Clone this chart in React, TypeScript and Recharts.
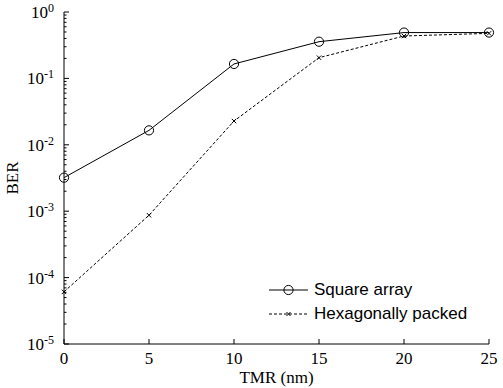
import React from 'react';
import { CartesianGrid, Legend, Line, LineChart, XAxis, YAxis } from 'recharts';

const tmr = [0, 5, 10, 15, 20, 25];
const squareArray = [3.2e-3, 1.65e-2, 0.165, 0.357, 0.49, 0.49];
const hexPacked = [6.1e-5, 8.7e-4, 2.28e-2, 0.205, 0.435, 0.477];

const xTicks = [0, 5, 10, 15, 20, 25];
const majorExps = [-5, -4, -3, -2, -1, 0];
const minorMults = [2, 3, 4, 5, 6, 7, 8, 9];

const yTicks: number[] = [];
majorExps.forEach((e) => {
  yTicks.push(Math.pow(10, e));
  if (e < 0) minorMults.forEach((m) => yTicks.push(m * Math.pow(10, e)));
});

const data = tmr.map((t, i) => ({ tmr: t, square: squareArray[i], hex: hexPacked[i] }));

const serif = 'Liberation Serif';
const sans = 'Liberation Sans';

const isMajor = (v: number) => Math.abs(Math.log10(v) - Math.round(Math.log10(v))) < 1e-6;

// bottom axis: label + inward tick
const BottomTick = (props: any) => {
  const { x, y, payload } = props;
  const axisY = y - 14;
  return (
    <g>
      <line x1={x} x2={x} y1={axisY} y2={axisY - 5} stroke="#000" />
      <text x={x} y={y + 6} textAnchor="middle" fontFamily={serif} fontSize={17} fill="#000">
        {payload.value}
      </text>
    </g>
  );
};

const TopTick = (props: any) => {
  const { x, y } = props;
  return <line x1={x} x2={x} y1={y} y2={y + 5} stroke="#000" />;
};

const LeftTick = (props: any) => {
  const { x, y, payload } = props;
  const axisX = x + 10;
  const major = isMajor(payload.value);
  return (
    <g>
      <line x1={axisX} x2={axisX + (major ? 5 : 2.5)} y1={y} y2={y} stroke="#000" />
      {major && (
        <text x={x} y={y + 6} textAnchor="end" fontFamily={serif} fontSize={17} fill="#000">
          <tspan>10</tspan>
          <tspan dy={-6} fontSize={12}>
            {Math.round(Math.log10(payload.value))}
          </tspan>
        </text>
      )}
    </g>
  );
};

const RightTick = (props: any) => {
  const { x, y, payload } = props;
  const major = isMajor(payload.value);
  return <line x1={x} x2={x - (major ? 5 : 2.5)} y1={y} y2={y} stroke="#000" />;
};

const CircleDot = (props: any) => {
  const { cx, cy } = props;
  return <circle cx={cx} cy={cy} r={4.6} fill="none" stroke="#000" strokeWidth={1} />;
};

const CrossDot = (props: any) => {
  const { cx, cy } = props;
  const s = 2.2;
  return (
    <g stroke="#000" strokeWidth={1}>
      <line x1={cx - s} y1={cy - s} x2={cx + s} y2={cy + s} />
      <line x1={cx - s} y1={cy + s} x2={cx + s} y2={cy - s} />
    </g>
  );
};

const LegendBox = () => (
  <div style={{ fontFamily: sans, fontSize: 17, color: '#000', lineHeight: '24px' }}>
    <div style={{ display: 'flex', alignItems: 'center', height: 24 }}>
      <svg width={39} height={12} style={{ marginRight: 6 }}>
        <line x1={0} x2={39} y1={6} y2={6} stroke="#000" />
        <circle cx={19.5} cy={6} r={4.6} fill="none" stroke="#000" />
      </svg>
      <span>Square array</span>
    </div>
    <div style={{ display: 'flex', alignItems: 'center', height: 24 }}>
      <svg width={39} height={12} style={{ marginRight: 6 }}>
        <line x1={0} x2={39} y1={6} y2={6} stroke="#000" strokeDasharray="3 2" />
        <line x1={17.5} y1={4} x2={21.5} y2={8} stroke="#000" />
        <line x1={17.5} y1={8} x2={21.5} y2={4} stroke="#000" />
      </svg>
      <span>Hexagonally packed</span>
    </div>
  </div>
);

export default function App() {
  return (
    <div style={{ position: 'absolute', left: 0, top: 0, background: '#fff' }}>
      <LineChart width={503} height={388} data={data} margin={{ top: 12, right: 14, bottom: 0, left: 0 }}>
        <CartesianGrid stroke="none" />
        <XAxis
          xAxisId="bottom"
          dataKey="tmr"
          type="number"
          domain={[0, 25]}
          ticks={xTicks}
          interval={0}
          height={44}
          tickSize={0}
          tickMargin={14}
          tickLine={false}
          axisLine={{ stroke: '#000' }}
          tick={<BottomTick />}
          label={{ value: 'TMR (nm)', position: 'insideBottom', offset: 5, fill: '#000', fontFamily: serif, fontSize: 17 }}
        />
        <XAxis
          xAxisId="top"
          orientation="top"
          dataKey="tmr"
          type="number"
          domain={[0, 25]}
          ticks={xTicks}
          interval={0}
          height={0}
          tickSize={0}
          tickMargin={0}
          tickLine={false}
          axisLine={{ stroke: '#000' }}
          tick={<TopTick />}
        />
        <YAxis
          yAxisId="left"
          scale="log"
          domain={[1e-5, 1]}
          ticks={yTicks}
          interval={0}
          width={64}
          tickSize={0}
          tickMargin={10}
          tickLine={false}
          axisLine={{ stroke: '#000' }}
          tick={<LeftTick />}
          label={{ value: 'BER', angle: -90, position: 'insideLeft', offset: 12, fill: '#000', fontFamily: serif, fontSize: 17, textAnchor: 'middle' }}
        />
        <YAxis
          yAxisId="right"
          orientation="right"
          scale="log"
          domain={[1e-5, 1]}
          ticks={yTicks}
          interval={0}
          width={0}
          tickSize={0}
          tickMargin={0}
          tickLine={false}
          axisLine={{ stroke: '#000' }}
          tick={<RightTick />}
        />
        <Legend
          layout="vertical"
          align="center"
          verticalAlign="middle"
          content={<LegendBox />}
          wrapperStyle={{ left: 269, top: 278, width: 'auto' }}
        />
        <Line
          xAxisId="bottom"
          yAxisId="left"
          dataKey="square"
          stroke="#000"
          strokeWidth={1}
          dot={<CircleDot />}
          activeDot={false}
          isAnimationActive={false}
        />
        <Line
          xAxisId="bottom"
          yAxisId="left"
          dataKey="hex"
          stroke="#000"
          strokeWidth={1}
          strokeDasharray="3 2"
          dot={<CrossDot />}
          activeDot={false}
          isAnimationActive={false}
        />
      </LineChart>
    </div>
  );
}
